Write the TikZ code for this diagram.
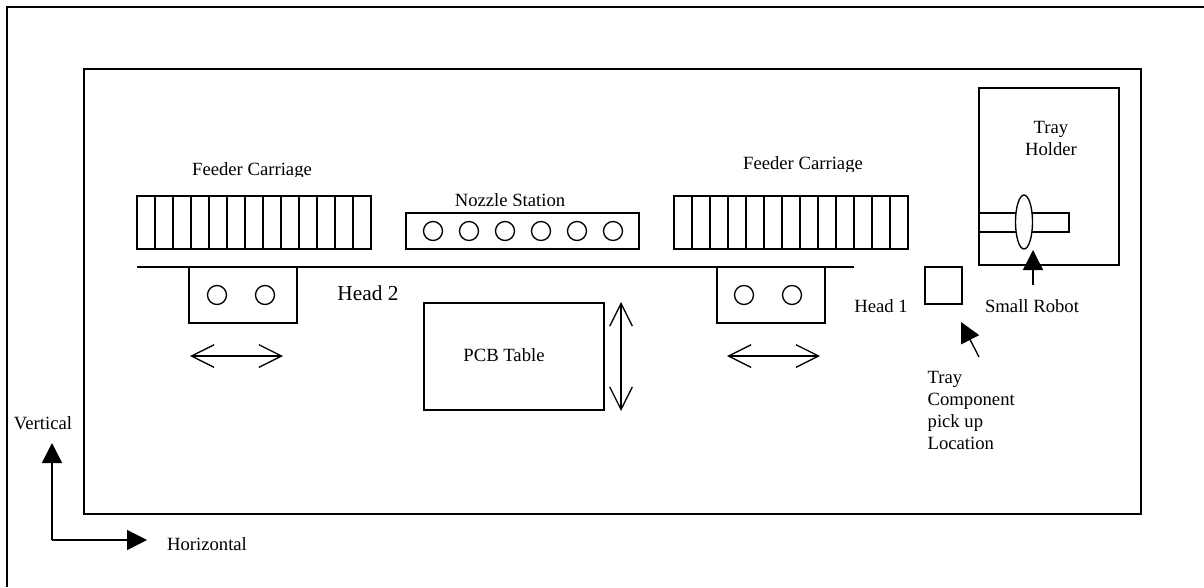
\documentclass[tikz,border=0pt]{standalone}
\usepackage{fontspec}
\setmainfont{Liberation Serif}
\usetikzlibrary{shapes.geometric, arrows.meta}
\tikzset{
    box/.style={rectangle, draw=black, inner sep=0pt, outer sep=0pt},
    slot/.style={box, minimum width=13.5pt, minimum height=39.75pt},
    headbox/.style={box, minimum width=81pt, minimum height=42pt},
    nozzle/.style={circle, draw=black, inner sep=0pt, outer sep=0pt, minimum size=14.25pt},
    label/.style={inner sep=0pt, align=center, font=\fontsize{14}{16.5}\selectfont},
    openarrow/.style={{Straight Barb[length=17pt,width=17pt]}-{Straight Barb[length=17pt,width=17pt]}},
    solidarrow/.style={-{Triangle[length=15pt,width=15pt]}}
}
\begin{document}
\begin{tikzpicture}[x=0.75pt, y=-0.75pt, line width=1pt]
        \useasboundingbox (0,0) rectangle (1204,587);
        % Frames
        \coordinate (frametr) at (1204,7);
        \coordinate (frametl) at (7,7);
        \coordinate (framebl) at (7,587);
        \draw (frametr) -- (frametl) -- (framebl);
        \node (machine) at (612.5,291.5) [box, minimum width=792.75pt, minimum height=333.75pt] {};

        % Left feeder carriage
        \node (fl1) at (146,222.5) [slot] {};
        \node (fl2) at (164,222.5) [slot] {};
        \node (fl3) at (182,222.5) [slot] {};
        \node (fl4) at (200,222.5) [slot] {};
        \node (fl5) at (218,222.5) [slot] {};
        \node (fl6) at (236,222.5) [slot] {};
        \node (fl7) at (254,222.5) [slot] {};
        \node (fl8) at (272,222.5) [slot] {};
        \node (fl9) at (290,222.5) [slot] {};
        \node (fl10) at (308,222.5) [slot] {};
        \node (fl11) at (326,222.5) [slot] {};
        \node (fl12) at (344,222.5) [slot] {};
        \node (fl13) at (362,222.5) [slot] {};

        % Right feeder carriage
        \node (fr1) at (683,222.5) [slot] {};
        \node (fr2) at (701,222.5) [slot] {};
        \node (fr3) at (719,222.5) [slot] {};
        \node (fr4) at (737,222.5) [slot] {};
        \node (fr5) at (755,222.5) [slot] {};
        \node (fr6) at (773,222.5) [slot] {};
        \node (fr7) at (791,222.5) [slot] {};
        \node (fr8) at (809,222.5) [slot] {};
        \node (fr9) at (827,222.5) [slot] {};
        \node (fr10) at (845,222.5) [slot] {};
        \node (fr11) at (863,222.5) [slot] {};
        \node (fr12) at (881,222.5) [slot] {};
        \node (fr13) at (899,222.5) [slot] {};

        % Nozzle station
        \node (station) at (522.5,231) [box, minimum width=174.75pt, minimum height=27pt] {};
        \node (n1) at (433,231) [nozzle] {};
        \node (n2) at (469,231) [nozzle] {};
        \node (n3) at (505,231) [nozzle] {};
        \node (n4) at (541,231) [nozzle] {};
        \node (n5) at (577,231) [nozzle] {};
        \node (n6) at (613,231) [nozzle] {};

        % Rail and heads
        \coordinate (railstart) at (137,267);
        \coordinate (railend) at (854,267);
        \draw (railstart) -- (railend);
        \node (head2) at (243,295) [headbox] {};
        \node (h2a) at (217,295) [nozzle] {};
        \node (h2b) at (265,295) [nozzle] {};
        \node (head1) at (771,295) [headbox] {};
        \node (h1a) at (744,295) [nozzle] {};
        \node (h1b) at (792,295) [nozzle] {};

        % PCB table
        \node (pcb) at (514,356.5) [box, minimum width=135pt, minimum height=80.25pt] {};

        % Tray holder and small robot
        \node (tray) at (1049,176.5) [box, minimum width=105pt, minimum height=132.75pt] {};
        \node (slider) at (1024,222.5) [box, minimum width=67.5pt, minimum height=14.25pt] {};
        \node (robot) at (1024,222) [ellipse, draw=black, fill=white, inner sep=0pt, outer sep=0pt, minimum width=12.75pt, minimum height=40.5pt] {};
        \node (pickup) at (943.5,285.5) [box, minimum width=27.75pt, minimum height=27.75pt] {};

        % Motion arrows
        \coordinate (h2left) at (190,356);
        \coordinate (h2right) at (283,356);
        \draw[openarrow] (h2left) -- (h2right);
        \coordinate (h1left) at (727,356);
        \coordinate (h1right) at (820,356);
        \draw[openarrow] (h1left) -- (h1right);
        \coordinate (pcbtop) at (621,302);
        \coordinate (pcbbot) at (621,411);
        \draw[openarrow] (pcbtop) -- (pcbbot);

        % Pointers
        \coordinate (robotfoot) at (1033,285);
        \coordinate (robottip) at (1033,250);
        \draw[solidarrow] (robotfoot) -- (robottip);
        \coordinate (pickfoot) at (979,357);
        \coordinate (picktip) at (961,322);
        \draw[solidarrow] (pickfoot) -- (picktip);

        % Axes
        \coordinate (axisv) at (52,443);
        \coordinate (axiso) at (52,540);
        \coordinate (axish) at (147,540);
        \draw[solidarrow] (axiso) -- (axisv);
        \draw[solidarrow] (axiso) -- (axish);

        % Labels
        \begin{scope}
            \clip (150,150) rectangle (350,176);
            \node (fllabel) at (252,171) [label] {Feeder Carriage};
        \end{scope}
        \begin{scope}
            \clip (700,150) rectangle (900,171);
            \node (frlabel) at (803,165) [label] {Feeder Carriage};
        \end{scope}
        \begin{scope}
            \clip (420,185) rectangle (600,205);
            \node (stationlabel) at (510,200) [label] {Nozzle Station};
        \end{scope}
        \node (h2label) at (368,293) [label, font=\fontsize{16}{18}\selectfont] {Head 2};
        \node (h1label) at (881,306) [label] {Head 1};
        \node (pcblabel) at (504,355) [label] {PCB Table};
        \node (traylabel) at (1051,138) [label] {Tray\\Holder};
        \node (robotlabel) at (1032,306) [label] {Small Robot};
        \node (picklabel) at (927,410) [label, anchor=west, align=left] {Tray\\Component\\pick up\\Location};
        \node (vlabel) at (43,423) [label] {Vertical};
        \node (hlabel) at (207,544) [label] {Horizontal};
\end{tikzpicture}
\end{document}
